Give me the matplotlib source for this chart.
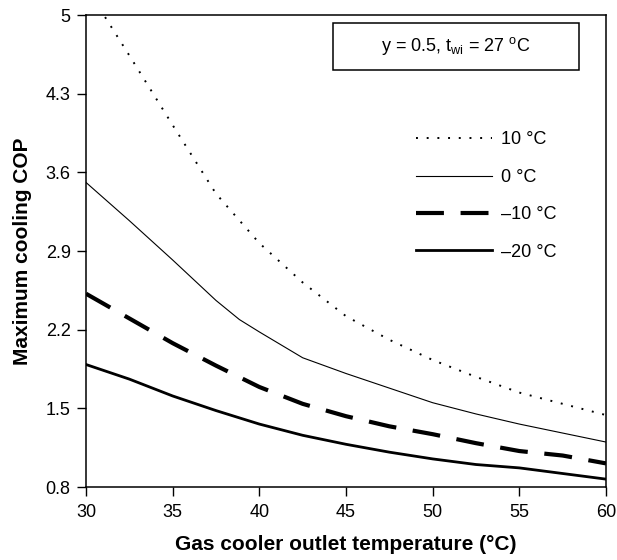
import numpy as np
import matplotlib
matplotlib.use('Agg')
import matplotlib.pyplot as plt
from matplotlib.patches import Rectangle

plt.rcParams['font.family'] = ['Liberation Sans', 'DejaVu Sans']
plt.rcParams['mathtext.default'] = 'regular'
plt.rcParams['axes.unicode_minus'] = False

# data
x_10 = [30, 32.5, 35, 37.5, 40, 42.5, 45, 47.5, 50, 52.5, 55, 57.5, 60]
cop_10 = [5.25, 4.64, 4.02, 3.41, 2.97, 2.62, 2.32, 2.11, 1.93, 1.78, 1.64, 1.54, 1.44]

x_0 = [30, 32.5, 35, 37.5, 38.85, 40, 42.5, 45, 50, 52.5, 55, 60]
cop_0 = [3.51, 3.17, 2.82, 2.46, 2.29, 2.18, 1.95, 1.81, 1.55, 1.45, 1.36, 1.20]

x_m10 = [30, 32.5, 35, 37.5, 40, 42.5, 45, 47.5, 50, 52.5, 55, 57.5, 60]
cop_m10 = [2.52, 2.30, 2.08, 1.88, 1.69, 1.54, 1.43, 1.34, 1.27, 1.19, 1.12, 1.08, 1.01]

x_m20 = [30, 32.5, 35, 37.5, 40, 42.5, 45, 47.5, 50, 52.5, 55, 57.5, 60]
cop_m20 = [1.89, 1.76, 1.61, 1.48, 1.36, 1.26, 1.18, 1.11, 1.05, 1.00, 0.97, 0.92, 0.87]

labels = ['10 °C', '0 °C', '–10 °C', '–20 °C']
xticks = [30, 35, 40, 45, 50, 55, 60]
yticks = [0.8, 1.5, 2.2, 2.9, 3.6, 4.3, 5]

fig = plt.figure(figsize=(6.17, 5.6), dpi=100)
ax = fig.add_axes([86/617, 1 - 487/560, 520/617, 472/560])

ax.plot(x_10, cop_10, color='black', lw=1.4, linestyle=(0, (1, 4.5)), label=labels[0])
ax.plot(x_0, cop_0, color='black', lw=0.8, label=labels[1])
ax.plot(x_m10, cop_m10, color='black', lw=3.0, linestyle=(0, (6.7, 4)), label=labels[2])
ax.plot(x_m20, cop_m20, color='black', lw=2.0, label=labels[3])

ax.set_xlim(30, 60)
ax.set_ylim(0.8, 5)
ax.set_xticks(xticks)
ax.set_yticks(yticks)
ax.set_yticklabels(['0.8', '1.5', '2.2', '2.9', '3.6', '4.3', '5'])
ax.tick_params(direction='out', length=6.5, width=1, labelsize=13)
ax.tick_params(axis='y', pad=4.5)
ax.tick_params(axis='x', pad=5.5)
for s in ax.spines.values():
    s.set_linewidth(1.1)

ax.set_xlabel('Gas cooler outlet temperature (°C)', fontsize=15, fontweight='bold', labelpad=10)
ax.set_ylabel('Maximum cooling COP', fontsize=15, fontweight='bold', labelpad=10)

# box with conditions
ax.add_patch(Rectangle((0.475, 0.8835), 0.473, 0.1, transform=ax.transAxes,
                       fill=False, edgecolor='black', lw=1.1))
ax.text(0.7115, 0.934, 'y = 0.5, t$_{wi}$ = 27 $^{o}$C', transform=ax.transAxes,
        ha='center', va='center', fontsize=13)

leg = ax.legend(loc='upper left', bbox_to_anchor=(416/617, 1 - 131.5/560),
                bbox_transform=fig.transFigure, frameon=False, fontsize=13,
                handlelength=4.2, handletextpad=0.5, labelspacing=1.13,
                borderpad=0, borderaxespad=0)

plt.savefig('out.png', dpi=100)
